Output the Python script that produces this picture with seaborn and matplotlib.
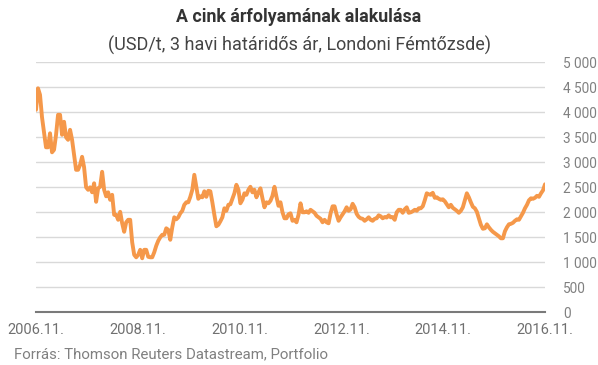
import matplotlib
matplotlib.use("Agg")
import matplotlib.pyplot as plt
import seaborn as sns
import pandas as pd
import numpy as np
from matplotlib.ticker import FixedLocator, FuncFormatter

# ---- data (USD/t) ----
start_date = "2006-11-01"
end_date = "2016-11-01"
zinc_price = [
    4050, 4480, 4350, 3900, 3600, 3300, 3300, 3580, 3200, 3250,
    3550, 3950, 3950, 3550, 3810, 3500, 3450, 3650, 3450, 3150,
    2850, 2850, 2950, 3110, 2900, 2500, 2450, 2500, 2400, 2580,
    2210, 2480, 2510, 2810, 2450, 2320, 2400, 2250, 2350, 1950,
    1950, 1850, 2010, 1780, 1610, 1800, 1850, 1850, 1400, 1150,
    1100, 1150, 1250, 1080, 1250, 1250, 1110, 1100, 1100, 1200,
    1330, 1430, 1500, 1550, 1550, 1680, 1650, 1450, 1700, 1900,
    1860, 1900, 1980, 2030, 2150, 2200, 2200, 2310, 2450, 2750,
    2510, 2270, 2320, 2300, 2420, 2310, 2430, 2420, 2200, 1950,
    1720, 1750, 1820, 1900, 2080, 2030, 2150, 2160, 2270, 2380,
    2550, 2450, 2180, 2250, 2380, 2350, 2450, 2510, 2400, 2450,
    2300, 2400, 2480, 2280, 2100, 2200, 2180, 2230, 2330, 2510,
    2310, 2130, 2200, 2000, 1880, 1880, 1960, 1980, 1830, 1850,
    1800, 1950, 2180, 2000, 2000, 2020, 1990, 2050, 2020, 1990,
    1930, 1900, 1870, 1800, 1850, 1800, 1780, 1980, 2120, 2120,
    1960, 1830, 1900, 1960, 2020, 2100, 2030, 2060, 2170, 2100,
    1970, 1910, 1880, 1870, 1830, 1860, 1900, 1850, 1830, 1870,
    1880, 1940, 1920, 1880, 1905, 1895, 1940, 1900, 1905, 1850,
    2000, 2050, 2050, 1990, 2060, 2100, 1990, 2000, 2020, 2050,
    2030, 2080, 2080, 2120, 2240, 2380, 2360, 2350, 2390, 2290,
    2300, 2270, 2250, 2260, 2220, 2160, 2100, 2150, 2090, 2060,
    2030, 1990, 2030, 2100, 2240, 2380, 2300, 2200, 2110, 2080,
    2010, 1880, 1750, 1670, 1680, 1760, 1700, 1650, 1610, 1580,
    1550, 1520, 1480, 1480, 1620, 1700, 1760, 1770, 1790, 1830,
    1860, 1850, 1920, 1990, 2080, 2150, 2240, 2280, 2270, 2290,
    2330, 2310, 2380, 2440, 2560,
]
x_tick_dates = ["2006-11-01", "2008-11-01", "2010-11-01", "2012-11-01", "2014-11-01", "2016-11-01"]
x_tick_labels = ["2006.11.", "2008.11.", "2010.11.", "2012.11.", "2014.11.", "2016.11."]
y_ticks = [0, 500, 1000, 1500, 2000, 2500, 3000, 3500, 4000, 4500, 5000]

title = "A cink árfolyamának alakulása"
subtitle = "(USD/t, 3 havi határidős ár, Londoni Fémtőzsde)"
source = "Forrás: Thomson Reuters Datastream, Portfolio"

dates = pd.date_range(start_date, end_date, periods=len(zinc_price))
df = pd.DataFrame({"date": dates, "price": zinc_price})

# ---- style ----
sns.set_style("white")
plt.rcParams["font.family"] = ["Roboto", "DejaVu Sans"]

fig = plt.figure(figsize=(5.98, 3.65), dpi=100)
ax = fig.add_axes([36 / 598, 1 - 312.3 / 365, (545 - 36) / 598, 250 / 365])

sns.lineplot(data=df, x="date", y="price", ax=ax, color="#F5984A", linewidth=2.8)

ax.set_xlim(pd.Timestamp(start_date), pd.Timestamp(end_date))
ax.set_ylim(0, 5000)
ax.set_xlabel("")
ax.set_ylabel("")

ax.yaxis.set_major_locator(FixedLocator(y_ticks))
ax.yaxis.set_major_formatter(FuncFormatter(lambda v, p: f"{int(v):,}".replace(",", " ")))
ax.yaxis.tick_right()
ax.grid(axis="y", color="#d9d9d9", linewidth=1)
ax.grid(axis="x", visible=False)
ax.set_axisbelow(True)

ax.set_xticks([pd.Timestamp(d) for d in x_tick_dates])
ax.set_xticklabels(x_tick_labels)

ax.tick_params(axis="y", length=0, pad=13, labelsize=9.8, labelcolor="#808080")
ax.tick_params(axis="x", length=0, pad=8, labelsize=10.5, labelcolor="#707070")
for lab in ax.get_yticklabels():
    lab.set_horizontalalignment("left")

for s in ["top", "left", "right"]:
    ax.spines[s].set_visible(False)
ax.spines["bottom"].set_color("#7a7a7a")
ax.spines["bottom"].set_linewidth(1.5)

fig.text(0.5, 1 - 17 / 365, title, ha="center", va="center", fontsize=12.8,
         fontweight="bold", color="#333333")
fig.text(0.5, 1 - 45 / 365, subtitle, ha="center", va="center", fontsize=13,
         color="#444444")
fig.text(14 / 598, 1 - 354 / 365, source, ha="left", va="center", fontsize=10.8,
         color="#808080")

fig.savefig("out.png", dpi=100)
